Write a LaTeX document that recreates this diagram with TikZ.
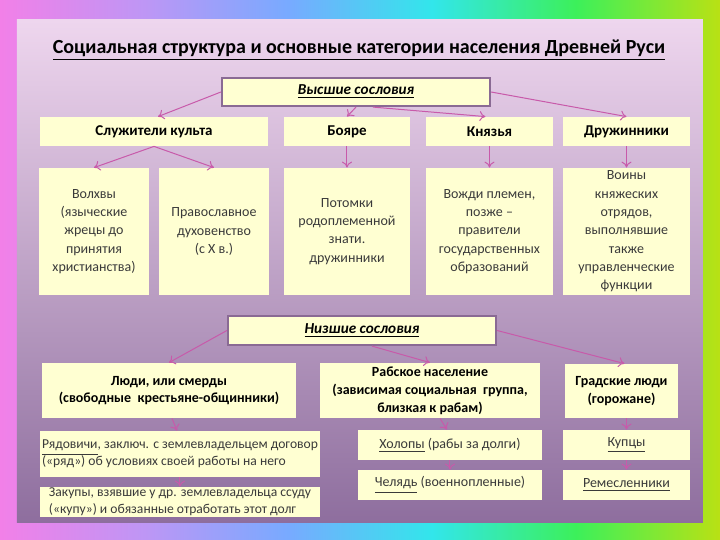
\documentclass[tikz,border=0pt]{standalone}
\usepackage{fontspec}
\setmainfont{Carlito}
\usetikzlibrary{arrows.meta,calc}
\definecolor{bgpink}{RGB}{242,128,232}
\definecolor{bgviolet}{RGB}{190,150,245}
\definecolor{bgblue}{RGB}{120,170,255}
\definecolor{bgcyan}{RGB}{50,230,235}
\definecolor{bggreen}{RGB}{60,240,90}
\definecolor{bglime}{RGB}{185,225,20}
\definecolor{panelTop}{RGB}{238,214,238}
\definecolor{panelMid}{RGB}{190,160,202}
\definecolor{panelBot}{RGB}{142,110,158}
\definecolor{boxyellow}{RGB}{255,255,210}
\definecolor{framepurple}{RGB}{138,106,148}
\definecolor{linkpink}{RGB}{200,90,170}
\definecolor{bodygray}{RGB}{58,58,58}
\pgfdeclarehorizontalshading{rainbow}{100bp}{color(0bp)=(bgpink); color(25bp)=(bgpink);
  color(35bp)=(bgviolet); color(45bp)=(bgblue); color(55bp)=(bgcyan);
  color(65bp)=(bggreen); color(75bp)=(bglime); color(100bp)=(bglime)}
\tikzset{
  box/.style={fill=boxyellow,inner sep=0pt},
  wh/.style 2 args={minimum width=#1pt,minimum height=#2pt},
  headbox/.style={box,draw=framepurple,line width=1.1pt,
    font=\bfseries\itshape\fontsize{7.6}{9}\selectfont},
  lbl/.style={font=\bfseries\fontsize{7.5}{9}\selectfont},
  lowlbl/.style={font=\bfseries\fontsize{7.0}{8.9}\selectfont,align=center},
  txt/.style={font=\fontsize{7.0}{9.15}\selectfont,text=bodygray,align=center},
  small/.style={font=\fontsize{6.8}{8.3}\selectfont,text=bodygray,align=left},
  link/.style={draw=linkpink,line width=0.5pt,-{To[length=3pt,width=5pt]}}
}
\begin{document}
\begin{tikzpicture}[x=0.5pt,y=-0.5pt]
% background
\shade[shading=rainbow] (0,0) rectangle (720,540);
\shade[top color=panelTop,middle color=panelMid,bottom color=panelBot] (17,20) rectangle (703,523);
\node[font=\bfseries\fontsize{10}{12}\selectfont] (title) at (359,50)
  {\underline{Социальная структура и основные категории населения Древней Руси}};
% upper estates
\node[headbox,wh={134}{14}] (hi) at (356,92) {\underline{Высшие сословия}};
\node[box,lbl,wh={114}{14.5}] (cult) at (154,131.5) {Служители культа};
\node[box,lbl,wh={63}{14.5}] (boyar) at (347,131.5) {Бояре};
\node[box,lbl,wh={63.5}{14.5}] (knyaz) at (489.5,131.5) {Князья};
\node[box,lbl,wh={63.5}{14.5}] (druzh) at (626.5,131.5) {Дружинники};
\node[box,txt,wh={55}{63.5}] (volkh) at (94,231.5) {Волхвы\\(языческие\\жрецы до\\принятия\\христианства)};
\node[box,txt,wh={55}{63.5}] (prav) at (214,231.5) {Православное\\духовенство\\(с X в.)};
\node[box,txt,wh={63}{63.5}] (potom) at (347,231.5) {Потомки\\родоплеменной\\знати.\\дружинники};
\node[box,txt,wh={63.5}{63.5}] (vozhd) at (489.5,231.5) {Вожди племен,\\позже –\\правители\\государственных\\образований};
\node[box,txt,wh={63.5}{63.5}] (voin) at (626.5,231.5) {Воины\\княжеских\\отрядов,\\выполнявшие\\также\\управленческие\\функции};
\draw[link] (hi.west) -- ($(cult.north)+(4,0)$);
\draw[link] (hi.south) -- (boyar.north);
\draw[link] ($(hi.south)+(17,0)$) -- ($(knyaz.north)+(-4,0)$);
\draw[link] (hi.east) -- (druzh.north);
\draw[link] (cult.south) -- (volkh.north);
\draw[link] (cult.south) -- (prav.north);
\draw[link] (boyar.south) -- (potom.north);
\draw[link] (knyaz.south) -- (vozhd.north);
\draw[link] (druzh.south) -- (voin.north);
% lower estates
\node[headbox,wh={134}{14.5}] (lo) at (362,330.5) {\underline{Низшие сословия}};
\node[box,lowlbl,wh={127}{27.5}] (smerd) at (169,390.5) {Люди, или смерды\\(свободные~ крестьяне-общинники)};
\node[box,lowlbl,wh={110}{27.5}] (rab) at (430,390.5) {Рабское население\\(зависимая социальная~ группа,\\близкая к рабам)};
\node[box,lowlbl,wh={56.5}{27}] (grad) at (621.5,391) {Градские люди\\(горожане)};
\node[box,small,wh={140}{23}] (ryad) at (180,454)
  {\underline{Рядовичи}, заключ. с землевладельцем договор\\(«ряд») об условиях своей работы на него};
\node[box,small,wh={140}{15}] (zakup) at (180,502)
  {Закупы, взявшие у др. землевладельца ссуду\\(«купу») и обязанные отработать этот долг};
\node[box,txt,wh={92}{15}] (holop) at (450,445) {\underline{Холопы} (рабы за долги)};
\node[box,txt,wh={92}{15}] (chel) at (450,485) {\underline{Челядь} (военнопленные)};
\node[box,txt,wh={63.5}{15}] (kupec) at (626.5,445) {\underline{Купцы}};
\node[box,txt,wh={63.5}{15}] (remes) at (626.5,485) {\underline{Ремесленники}};
\draw[link] (lo.west) -- (smerd.north);
\draw[link] ($(lo.south)+(10,0)$) -- (rab.north);
\draw[link] (lo.east) -- ($(grad.north)+(3,0)$);
\draw[link] ($(smerd.south)+(3,0)$) -- ($(ryad.north)+(-3,0)$);
\draw[link] (ryad.south) -- (zakup.north);
\draw[link] ($(rab.south)+(10,0)$) -- ($(holop.north)+(-3,0)$);
\draw[link] (holop.south) -- (chel.north);
\draw[link] ($(grad.south)+(5,0)$) -- (kupec.north);
\draw[link] (kupec.south) -- (remes.north);
\end{tikzpicture}
\end{document}
